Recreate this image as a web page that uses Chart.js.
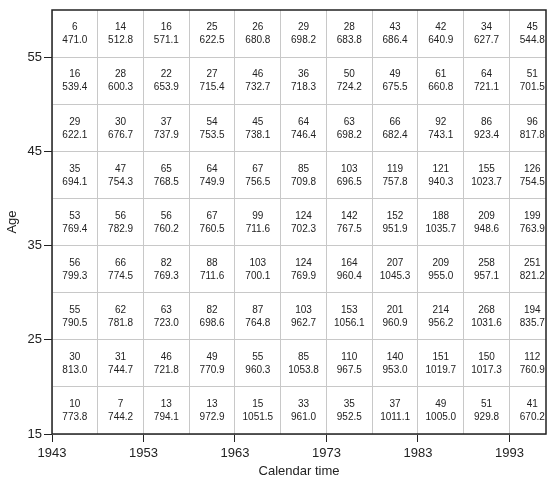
<!DOCTYPE html>
<html>
<head>
<meta charset="utf-8">
<script src="https://cdn.jsdelivr.net/npm/chart.js@4/dist/chart.umd.min.js"></script>
<style>
  html, body { margin: 0; padding: 0; background: #fff; overflow: hidden; }
  canvas { display: block; }
</style>
</head>
<body>
<canvas id="c" width="547" height="480"></canvas>
<script>
// Calendar periods (start of each 5-year column)
const periods = [1943, 1948, 1953, 1958, 1963, 1968, 1973, 1978, 1983, 1988, 1993];
// Age groups (start of each 5-year row), top row first
const ageGroups = [55, 50, 45, 40, 35, 30, 25, 20, 15];
const xTickLabels = [1943, 1953, 1963, 1973, 1983, 1993];
const yTickLabels = [15, 25, 35, 45, 55];

// Counts per age group (rows) and period (columns)
const counts = [
  [6, 14, 16, 25, 26, 29, 28, 43, 42, 34, 45],
  [16, 28, 22, 27, 46, 36, 50, 49, 61, 64, 51],
  [29, 30, 37, 54, 45, 64, 63, 66, 92, 86, 96],
  [35, 47, 65, 64, 67, 85, 103, 119, 121, 155, 126],
  [53, 56, 56, 67, 99, 124, 142, 152, 188, 209, 199],
  [56, 66, 82, 88, 103, 124, 164, 207, 209, 258, 251],
  [55, 62, 63, 82, 87, 103, 153, 201, 214, 268, 194],
  [30, 31, 46, 49, 55, 85, 110, 140, 151, 150, 112],
  [10, 7, 13, 13, 15, 33, 35, 37, 49, 51, 41]
];
// Rates per age group (rows) and period (columns)
const rates = [
  [471.0, 512.8, 571.1, 622.5, 680.8, 698.2, 683.8, 686.4, 640.9, 627.7, 544.8],
  [539.4, 600.3, 653.9, 715.4, 732.7, 718.3, 724.2, 675.5, 660.8, 721.1, 701.5],
  [622.1, 676.7, 737.9, 753.5, 738.1, 746.4, 698.2, 682.4, 743.1, 923.4, 817.8],
  [694.1, 754.3, 768.5, 749.9, 756.5, 709.8, 696.5, 757.8, 940.3, 1023.7, 754.5],
  [769.4, 782.9, 760.2, 760.5, 711.6, 702.3, 767.5, 951.9, 1035.7, 948.6, 763.9],
  [799.3, 774.5, 769.3, 711.6, 700.1, 769.9, 960.4, 1045.3, 955.0, 957.1, 821.2],
  [790.5, 781.8, 723.0, 698.6, 764.8, 962.7, 1056.1, 960.9, 956.2, 1031.6, 835.7],
  [813.0, 744.7, 721.8, 770.9, 960.3, 1053.8, 967.5, 953.0, 1019.7, 1017.3, 760.9],
  [773.8, 744.2, 794.1, 972.9, 1051.5, 961.0, 952.5, 1011.1, 1005.0, 929.8, 670.2]
];

const points = [];
ageGroups.forEach((a, i) => {
  periods.forEach((p, j) => {
    points.push({ x: p + 2.5, y: a + 2.5, n: counts[i][j], r: rates[i][j] });
  });
});

const FONT = "'Liberation Sans', Arial, Helvetica, sans-serif";

const cellLabels = {
  id: 'cellLabels',
  afterDatasetsDraw(chart) {
    const ctx = chart.ctx;
    const meta = chart.getDatasetMeta(0);
    const ca = chart.chartArea;
    ctx.save();
    ctx.beginPath();
    ctx.rect(ca.left, ca.top, ca.right - ca.left + 1, ca.bottom - ca.top);
    ctx.clip();
    ctx.fillStyle = '#222';
    ctx.font = '10px ' + FONT;
    ctx.textAlign = 'center';
    ctx.textBaseline = 'middle';
    meta.data.forEach((el, k) => {
      const d = points[k];
      ctx.fillText(String(d.n), el.x, el.y - 6);
      ctx.fillText(d.r.toFixed(1), el.x, el.y + 7);
    });
    ctx.restore();
  },
  afterDraw(chart) {
    const ctx = chart.ctx;
    const ca = chart.chartArea;
    ctx.save();
    ctx.strokeStyle = '#222';
    ctx.lineWidth = 1.5;
    ctx.strokeRect(ca.left, ca.top, ca.right - ca.left, ca.bottom - ca.top);
    ctx.restore();
  }
};

new Chart(document.getElementById('c'), {
  type: 'scatter',
  data: {
    datasets: [{
      data: points,
      pointRadius: 0,
      pointHoverRadius: 0,
      showLine: false
    }]
  },
  options: {
    responsive: false,
    animation: false,
    devicePixelRatio: 1,
    layout: { padding: { top: 10, right: 1, left: 0, bottom: 0 } },
    plugins: { legend: { display: false }, tooltip: { enabled: false } },
    scales: {
      x: {
        type: 'linear',
        min: 1943,
        max: 1997,
        afterBuildTicks(scale) { scale.ticks = periods.map(v => ({ value: v })); },
        afterFit(scale) { scale.height = 46; },
        border: { display: false },
        grid: {
          color: '#c8c8c8',
          lineWidth: 1,
          drawTicks: true,
          tickLength: 8,
          tickWidth: 1,
          tickColor: (c) => (c.tick && xTickLabels.includes(c.tick.value)) ? '#222' : 'rgba(0,0,0,0)'
        },
        ticks: {
          autoSkip: false,
          maxRotation: 0,
          padding: 4,
          color: '#222',
          font: { family: FONT, size: 13 },
          callback: (v) => xTickLabels.includes(v) ? String(v) : ''
        },
        title: {
          display: true,
          text: 'Calendar time',
          color: '#222',
          font: { family: FONT, size: 13 },
          padding: { top: 0, bottom: 1 }
        }
      },
      y: {
        type: 'linear',
        min: 15,
        max: 60,
        afterBuildTicks(scale) { scale.ticks = [15, 20, 25, 30, 35, 40, 45, 50, 55].map(v => ({ value: v })); },
        afterFit(scale) { scale.width = 52; },
        border: { display: false },
        grid: {
          color: '#c8c8c8',
          lineWidth: 1,
          drawTicks: true,
          tickLength: 8,
          tickWidth: 1,
          tickColor: (c) => (c.tick && yTickLabels.includes(c.tick.value)) ? '#222' : 'rgba(0,0,0,0)'
        },
        ticks: {
          autoSkip: false,
          padding: 2,
          color: '#222',
          font: { family: FONT, size: 13 },
          callback: (v) => yTickLabels.includes(v) ? String(v) : ''
        },
        title: {
          display: true,
          text: 'Age',
          color: '#222',
          font: { family: FONT, size: 13 },
          padding: { top: 5, bottom: 0 }
        }
      }
    }
  },
  plugins: [cellLabels]
});
</script>
</body>
</html>
